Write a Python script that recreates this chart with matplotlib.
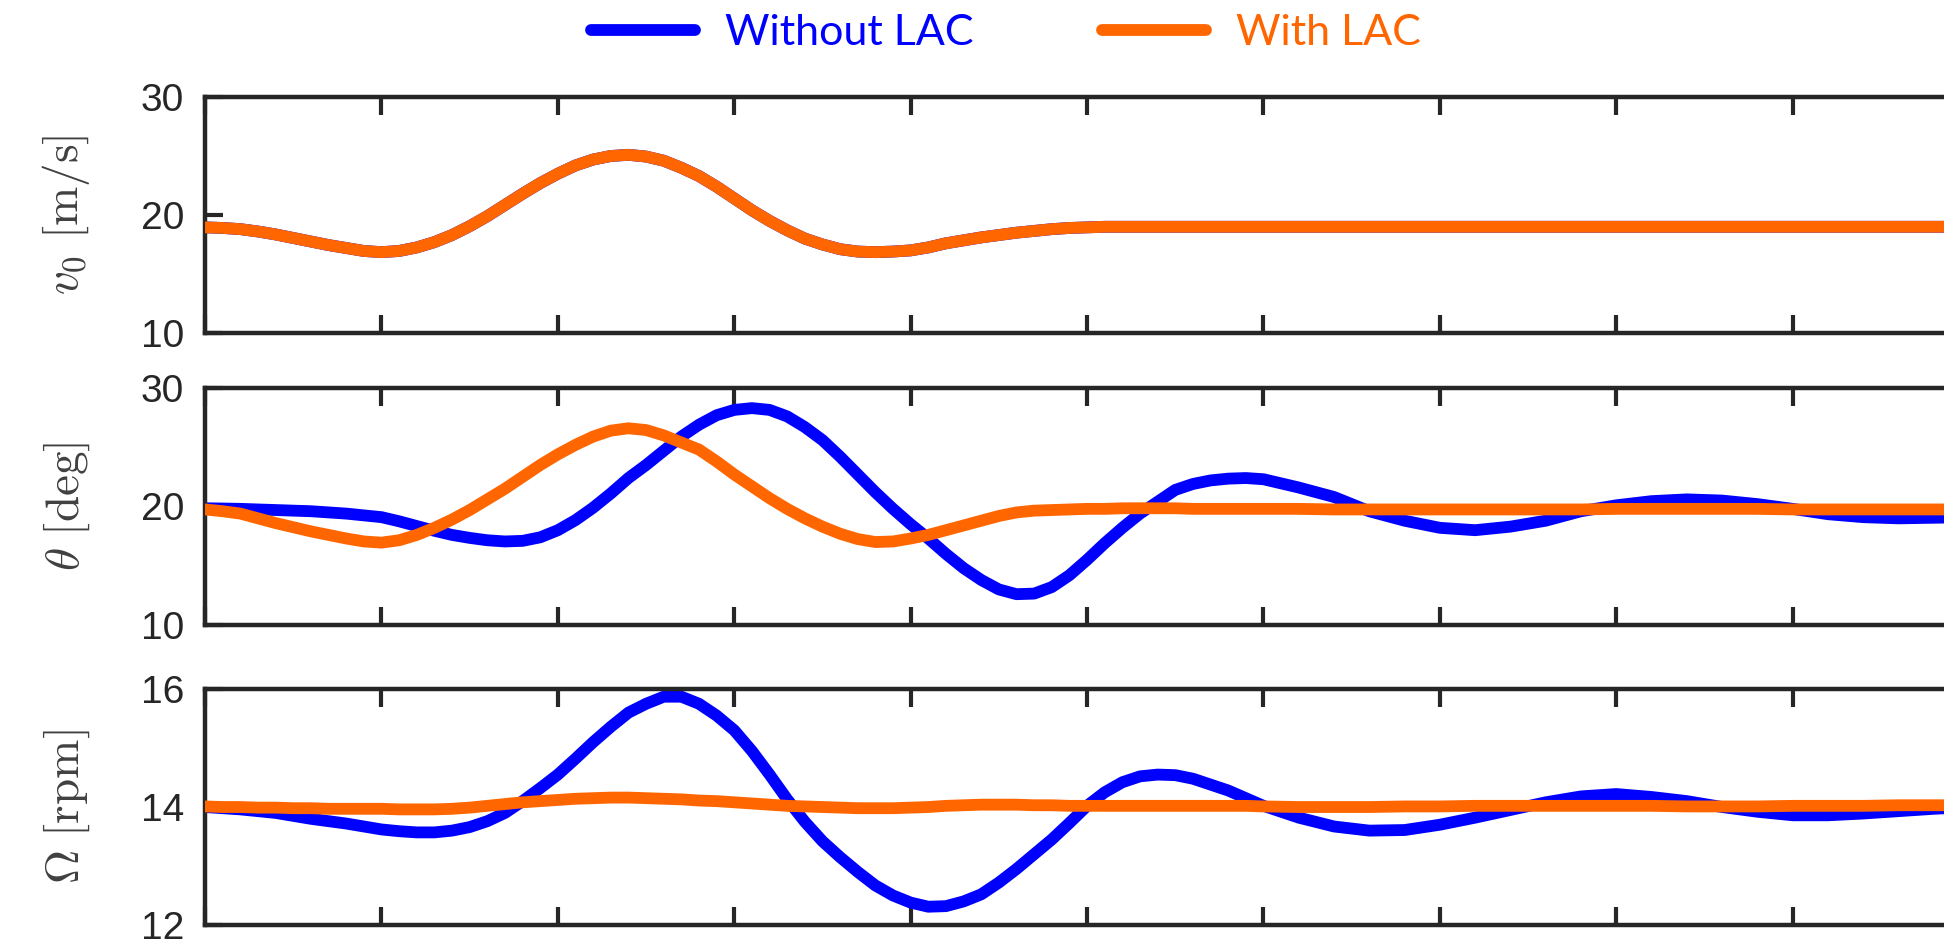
import matplotlib
matplotlib.use("Agg")
import matplotlib.pyplot as plt
import numpy as np

plt.rcParams['font.family'] = ['Liberation Sans', 'DejaVu Sans']
plt.rcParams['mathtext.fontset'] = 'cm'

# time: every 0.1 up to 5.9, then every 0.2 up to 10
t = np.concatenate([np.round(np.arange(0, 5.95, 0.1), 1),
                    np.round(np.arange(6, 10.01, 0.2), 1)])

# wind speed, same for both runs
v0 = [18.95, 18.9, 18.8, 18.6, 18.35, 18.05, 17.75, 17.45, 17.2, 16.95,
      16.85, 16.95, 17.25, 17.7, 18.3, 19.05, 19.9, 20.85, 21.8, 22.7,
      23.5, 24.2, 24.7, 25.0, 25.1, 24.95, 24.6, 24.0, 23.3, 22.4,
      21.4, 20.4, 19.5, 18.7, 18.0, 17.5, 17.1, 16.9, 16.85, 16.9,
      17.0, 17.25, 17.6, 17.85, 18.1, 18.3, 18.5, 18.65, 18.8, 18.9,
      18.95, 19.0, 19.0, 19.0, 19.0, 19.0, 19.0, 19.0, 19.0, 19.0,
      19.0, 19.0, 19.0, 19.0, 19.0, 19.0, 19.0, 19.0, 19.0, 19.0,
      19.0, 19.0, 19.0, 19.0, 19.0, 19.0, 19.0, 19.0, 19.0, 19.0, 19.0]

# pitch angle
theta_without = [19.85, 19.83, 19.8, 19.75, 19.7, 19.65, 19.6, 19.5, 19.4, 19.25,
                 19.1, 18.75, 18.35, 17.95, 17.6, 17.35, 17.15, 17.05, 17.1, 17.4,
                 18.0, 18.85, 19.9, 21.1, 22.4, 23.5, 24.7, 25.9, 26.9, 27.7,
                 28.15, 28.3, 28.15, 27.6, 26.7, 25.6, 24.2, 22.7, 21.2, 19.8,
                 18.5, 17.3, 16.0, 14.8, 13.8, 13.0, 12.6, 12.65, 13.2, 14.2,
                 15.5, 16.9, 18.2, 19.4, 20.4, 21.4, 21.9, 22.2, 22.35, 22.4,
                 22.3, 21.6, 20.8, 19.6, 18.8, 18.2, 18.0, 18.3, 18.8, 19.6,
                 20.1, 20.45, 20.6, 20.5, 20.2, 19.8, 19.35, 19.1, 19.0, 19.05, 19.1]
theta_with = [19.75, 19.6, 19.4, 19.0, 18.6, 18.25, 17.9, 17.6, 17.3, 17.05,
              16.95, 17.15, 17.6, 18.2, 18.9, 19.7, 20.6, 21.5, 22.5, 23.5,
              24.4, 25.2, 25.9, 26.4, 26.6, 26.45, 26.0, 25.4, 24.8, 23.8,
              22.7, 21.7, 20.7, 19.8, 19.0, 18.3, 17.7, 17.25, 17.0, 17.05,
              17.3, 17.6, 18.0, 18.4, 18.8, 19.2, 19.5, 19.65, 19.7, 19.75,
              19.8, 19.8, 19.85, 19.85, 19.85, 19.85, 19.8, 19.8, 19.8, 19.8,
              19.8, 19.8, 19.75, 19.75, 19.75, 19.75, 19.75, 19.75, 19.75, 19.75,
              19.8, 19.8, 19.8, 19.8, 19.8, 19.75, 19.75, 19.75, 19.75, 19.75, 19.75]

# rotor speed
omega_without = [14.0, 13.98, 13.96, 13.93, 13.9, 13.85, 13.8, 13.76, 13.72, 13.67,
                 13.62, 13.59, 13.57, 13.57, 13.6, 13.66, 13.76, 13.9, 14.1, 14.32,
                 14.55, 14.82, 15.1, 15.36, 15.6, 15.75, 15.87, 15.87, 15.75, 15.55,
                 15.3, 14.95, 14.55, 14.13, 13.75, 13.42, 13.15, 12.9, 12.67, 12.5,
                 12.38, 12.31, 12.32, 12.4, 12.52, 12.72, 12.95, 13.2, 13.45, 13.73,
                 14.02, 14.25, 14.42, 14.52, 14.55, 14.54, 14.48, 14.38, 14.28, 14.15,
                 14.02, 13.82, 13.67, 13.6, 13.61, 13.7, 13.82, 13.95, 14.08, 14.18,
                 14.22, 14.17, 14.1, 14.0, 13.92, 13.86, 13.86, 13.89, 13.93, 13.97, 14.0]
omega_with = [14.01, 14.0, 14.0, 13.99, 13.99, 13.98, 13.98, 13.97, 13.97, 13.97,
              13.97, 13.96, 13.96, 13.96, 13.97, 13.99, 14.02, 14.05, 14.08, 14.1,
              14.12, 14.14, 14.15, 14.16, 14.16, 14.15, 14.14, 14.13, 14.11, 14.1,
              14.08, 14.06, 14.04, 14.02, 14.01, 14.0, 13.99, 13.98, 13.98, 13.98,
              13.99, 14.0, 14.02, 14.03, 14.04, 14.04, 14.04, 14.03, 14.03, 14.02,
              14.02, 14.02, 14.02, 14.02, 14.02, 14.02, 14.02, 14.02, 14.02, 14.02,
              14.01, 14.0, 14.0, 14.0, 14.01, 14.01, 14.02, 14.02, 14.02, 14.02,
              14.02, 14.02, 14.01, 14.01, 14.01, 14.02, 14.02, 14.02, 14.03, 14.03, 14.03]

labels = ['Without LAC', 'With LAC']
blue = '#0000FF'
orange = '#FF6600'
dark = '#262626'

fig = plt.figure(figsize=(19.44, 9.5), dpi=100)

panels = [
    ([0.1055, 0.6495, 0.9074, 0.2484], v0, v0, [10, 20, 30], r'$v_0\ [\mathrm{m/s}]$'),
    ([0.1055, 0.3421, 0.9074, 0.2495], theta_without, theta_with, [10, 20, 30], r'$\theta\ [\mathrm{deg}]$'),
    ([0.1055, 0.0263, 0.9074, 0.2484], omega_without, omega_with, [12, 14, 16], r'$\Omega\ [\mathrm{rpm}]$'),
]

lines = []
for rect, y_off, y_on, yt, ylab in panels:
    ax = fig.add_axes(rect)
    l1, = ax.plot(t, y_off, color=blue, lw=8.5, solid_capstyle='round',
                  solid_joinstyle='round', zorder=2)
    l2, = ax.plot(t, y_on, color=orange, lw=8.5, solid_capstyle='round',
                  solid_joinstyle='round', zorder=3)
    lines = [l1, l2]
    ax.set_xlim(0, 10)
    ax.set_ylim(yt[0], yt[-1])
    ax.set_yticks(yt)
    ax.set_xticks(range(0, 11))
    ax.tick_params(direction='in', length=13, width=3, top=True, right=True,
                   labelsize=28, pad=15, colors=dark, labelbottom=False)
    for s in ax.spines.values():
        s.set_linewidth(3.2)
        s.set_color(dark)
    ax.set_ylabel(ylab, fontsize=34, color='#404040')
    ax.yaxis.set_label_coords(-0.064, 0.5)

fig.legend(lines, labels, loc='center', bbox_to_anchor=(0.5175, 1 - 33 / 950),
           ncol=2, frameon=False, handlelength=2.4, handletextpad=0.7,
           columnspacing=3.0, labelcolor='linecolor',
           prop={'family': ['Lato', 'DejaVu Sans'], 'size': 31})

fig.savefig('out.png', dpi=100)
